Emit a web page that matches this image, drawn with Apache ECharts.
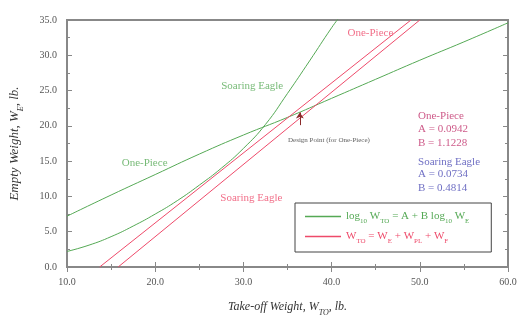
<!DOCTYPE html>
<html>
<head>
<meta charset="utf-8">
<script src="https://cdn.jsdelivr.net/npm/echarts@6/dist/echarts.min.js"></script>
<style>
  html, body { margin: 0; padding: 0; background: #fff; }
  #chart { width: 521px; height: 322px; }
</style>
</head>
<body>
<div id="chart"></div>
<script>
// take-off weight grid (lb) and fitted empty weights
const onePieceWto = [10, 15, 20, 25, 30, 35, 40, 45, 50, 55, 60];
const onePieceWe = [7.2, 10.2, 13.1, 16.0, 18.7, 21.2, 23.9, 26.6, 29.3, 31.9, 34.6];

const soaringWto = [10, 12.5, 15, 17.5, 20, 22.5, 25, 27.5, 30, 32.5, 35, 37.5, 40, 41];
const soaringWe = [2.2, 3.1, 4.3, 5.8, 7.5, 9.4, 11.6, 14.0, 16.8, 20.2, 24.6, 29.2, 33.9, 35.6];

// sizing lines  W_TO = W_E + W_PL + W_F
const onePieceSizeWto = [13.7, 49.0];
const onePieceSizeWe = [0, 35];
const soaringSizeWto = [15.8, 50.0];
const soaringSizeWe = [0, 35];

const designPoint = [36.4, 21.9];

const GREEN = "#55a955";
const RED = "#ee4a6a";
const PINK = "#c0306a";
const BLUE = "#4a4ab4";
const SERIF = "Liberation Serif, Times New Roman, serif";

const pairs = (xs, ys) => xs.map((x, i) => [x, ys[i]]);

// text notes placed in data coordinates
const notes = [
  { value: [18.8, 14.7], text: "One-Piece", color: GREEN, align: "center" },
  { value: [31.0, 25.6], text: "Soaring Eagle", color: GREEN, align: "center" },
  { value: [44.4, 33.2], text: "One-Piece", color: RED, align: "center" },
  { value: [30.9, 9.8], text: "Soaring Eagle", color: RED, align: "center" },
  { value: [39.7, 18.0], text: "Design Point (for One-Piece)", color: "#333", align: "center", size: 7 },
  { value: [49.8, 21.4], text: "One-Piece", color: PINK, align: "left" },
  { value: [49.8, 19.5], text: "A = 0.0942", color: PINK, align: "left" },
  { value: [49.8, 17.6], text: "B = 1.1228", color: PINK, align: "left" },
  { value: [49.8, 14.9], text: "Soaring Eagle", color: BLUE, align: "left" },
  { value: [49.8, 13.1], text: "A = 0.0734", color: BLUE, align: "left" },
  { value: [49.8, 11.2], text: "B = 0.4814", color: BLUE, align: "left" },
];

const chart = echarts.init(document.getElementById("chart"));

const tickLabel = { color: "#555", fontFamily: SERIF, fontSize: 10, margin: 10, formatter: (v) => v.toFixed(1) };
const frame = { lineStyle: { color: "#888", width: 2 } };
const ticks = { inside: true, length: 5, lineStyle: { color: "#888" } };
const minor = { show: true, splitNumber: 2, length: 3, lineStyle: { color: "#888" } };
const subStyle = { fontSize: 8, fontStyle: "italic", fontFamily: SERIF, verticalAlign: "bottom", lineHeight: 20 };

chart.setOption({
  animation: false,
  textStyle: { fontFamily: SERIF },
  grid: { left: 67, right: 13, top: 20, bottom: 49, show: true, borderColor: "#888", borderWidth: 2 },
  legend: {
    orient: "vertical",
    left: 295,
    top: 203,
    data: ["log", "sum"],
    icon: "rect",
    borderColor: "#444",
    borderWidth: 1,
    padding: [8, 22, 7, 10],
    itemWidth: 36,
    itemHeight: 1.5,
    itemGap: 6,
    selectedMode: false,
    formatter: (name) =>
      name === "log"
        ? "{g|log}{gs|10}{g| W}{gs|TO}{g| = A + B log}{gs|10}{g| W}{gs|E}"
        : "{r|W}{rs|TO}{r| = W}{rs|E}{r| + W}{rs|PL}{r| + W}{rs|F}",
    textStyle: {
      fontFamily: SERIF,
      rich: {
        g: { color: GREEN, fontSize: 11, fontFamily: SERIF },
        gs: { color: GREEN, fontSize: 7, fontFamily: SERIF, verticalAlign: "bottom", lineHeight: 17 },
        r: { color: RED, fontSize: 11, fontFamily: SERIF },
        rs: { color: RED, fontSize: 7, fontFamily: SERIF, verticalAlign: "bottom", lineHeight: 17 },
      },
    },
  },
  xAxis: [
    {
      type: "value", min: 10, max: 60, interval: 10,
      name: "Take-off Weight, W{s|TO}, lb.",
      nameLocation: "middle", nameGap: 30,
      nameTextStyle: { color: "#333", fontSize: 12, fontStyle: "italic", fontFamily: SERIF, rich: { s: subStyle } },
      axisLine: frame, axisTick: ticks, minorTick: minor,
      axisLabel: tickLabel,
      splitLine: { show: false },
    },
    {
      type: "value", min: 10, max: 60, interval: 10, position: "top",
      axisLine: frame, axisTick: ticks, minorTick: minor,
      axisLabel: { show: false },
      splitLine: { show: false },
    },
  ],
  yAxis: [
    {
      type: "value", min: 0, max: 35, interval: 5,
      name: "Empty Weight, W{s|E}, lb.",
      nameLocation: "middle", nameGap: 42,
      nameTextStyle: { color: "#333", fontSize: 13, fontStyle: "italic", fontFamily: SERIF, rich: { s: subStyle } },
      axisLine: frame, axisTick: ticks, minorTick: minor,
      axisLabel: tickLabel,
      splitLine: { show: false },
    },
    {
      type: "value", min: 0, max: 35, interval: 5, position: "right",
      axisLine: frame, axisTick: ticks, minorTick: minor,
      axisLabel: { show: false },
      splitLine: { show: false },
    },
  ],
  series: [
    {
      name: "log", type: "line", smooth: true, symbol: "none", clip: true,
      color: GREEN, lineStyle: { width: 1, color: GREEN },
      data: pairs(onePieceWto, onePieceWe),
    },
    {
      name: "log", type: "line", smooth: true, symbol: "none", clip: true,
      color: GREEN, lineStyle: { width: 1, color: GREEN },
      data: pairs(soaringWto, soaringWe),
    },
    {
      name: "sum", type: "line", symbol: "none", clip: true,
      color: RED, lineStyle: { width: 1, color: RED },
      data: pairs(onePieceSizeWto, onePieceSizeWe),
      markLine: {
        silent: true,
        symbol: ["none", "arrow"],
        symbolSize: 6,
        label: { show: false },
        lineStyle: { color: "#8b2a2a", width: 1, type: "solid" },
        data: [[{ coord: [designPoint[0], designPoint[1] - 1.8] }, { coord: designPoint }]],
      },
    },
    {
      name: "sum", type: "line", symbol: "none", clip: true,
      color: RED, lineStyle: { width: 1, color: RED },
      data: pairs(soaringSizeWto, soaringSizeWe),
    },
    {
      name: "notes", type: "scatter", symbolSize: 0, silent: true,
      data: notes.map((n) => ({
        value: n.value,
        label: {
          show: true, position: "inside", formatter: n.text,
          color: n.color, align: n.align, fontSize: n.size || 11, fontFamily: SERIF,
        },
      })),
    },
  ],
});
</script>
</body>
</html>
